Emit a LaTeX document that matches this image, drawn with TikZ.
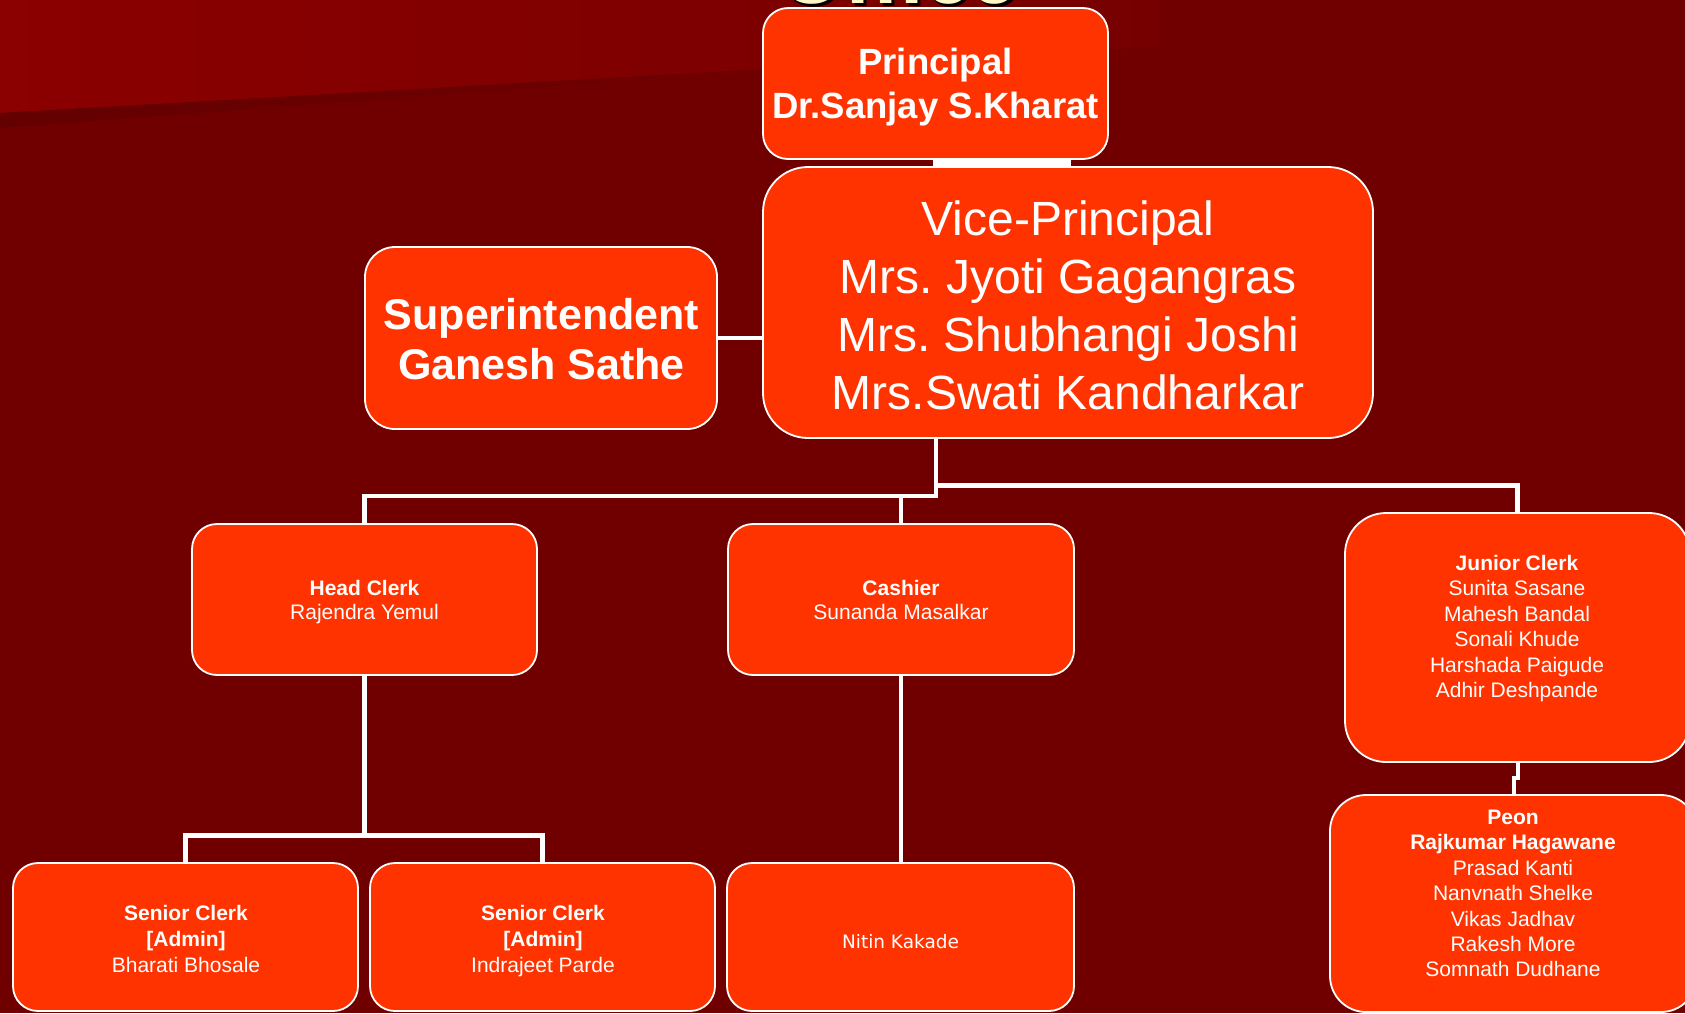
\documentclass[tikz,border=0pt]{standalone}
\usepackage{fontspec}
\setmainfont{Liberation Sans}
\newfontfamily\dejavu{DejaVu Sans}
\usetikzlibrary{calc}
\definecolor{bgred}{HTML}{700000}
\definecolor{bandred}{HTML}{8B0000}
\definecolor{bandright}{HTML}{760000}
\definecolor{stripe}{HTML}{640000}
\definecolor{boxred}{HTML}{FF3300}
\definecolor{titlecream}{HTML}{FFF6C6}
\begin{document}
\frenchspacing
\begin{tikzpicture}[x=1pt,y=-1pt,
  orgbox/.style={draw=white, line width=1.8pt, fill=boxred, inner sep=0pt, rounded corners=#1},
  orgbox/.default=25pt,
  link/.style={draw=white, line width=4.5pt},
  txt/.style={text=white, align=center, inner sep=0pt},
  small/.style={txt, font=\fontsize{21}{#1}\selectfont},
]
% background
\fill[bgred] (0,0) rectangle (1685,1013);
\useasboundingbox (0,0) rectangle (1685,1013);
\shade[left color=bandred, right color=bandright] (0,0) -- (1160,0) -- (1160,46.5) -- (0,113) -- cycle;
\shade[left color=stripe, right color=bgred] (0,113) -- (850,64.2) -- (0,128) -- cycle;

% cut title
\begin{scope}
\clip (0,0) rectangle (1685,1013);
\node[anchor=base, inner sep=0pt, text=black, font=\bfseries\fontsize{84}{84}\selectfont] (titleshadow) at (901,6) {Office};
\node[anchor=base, inner sep=0pt, text=titlecream, font=\bfseries\fontsize{84}{84}\selectfont] (title) at (898.5,3.5) {Office};
\end{scope}

% boxes
\node[orgbox=25pt, minimum width=345pt, minimum height=151pt] (prin) at (935.5,83.5) {};
\node[orgbox=45pt, minimum width=610pt, minimum height=271pt] (vp) at (1068,302.5) {};
\node[orgbox=30pt, minimum width=352pt, minimum height=182pt] (sup) at (541,338) {};
\node[orgbox=25pt, minimum width=345pt, minimum height=151pt] (hc) at (364.5,599.5) {};
\node[orgbox=25pt, minimum width=346pt, minimum height=151pt] (cash) at (901,599.5) {};
\node[orgbox=41pt, minimum width=345pt, minimum height=249pt] (jc) at (1517.5,637.5) {};
\node[orgbox=36pt, minimum width=367pt, minimum height=217pt] (peon) at (1513.5,903.5) {};
\node[orgbox=25pt, minimum width=345pt, minimum height=148pt] (sc1) at (185.5,937) {};
\node[orgbox=25pt, minimum width=345pt, minimum height=148pt] (sc2) at (542.5,937) {};
\node[orgbox=25pt, minimum width=347pt, minimum height=148pt] (nitin) at (900.5,937) {};

% connectors
\fill[white] ($(prin.south)+(-2.5,0)$) rectangle ($(vp.north)+(3,0)$);
\draw[link, line width=4pt] (sup.east) -- (vp.west |- sup.east);
\coordinate (j1) at (936,496);
\coordinate (j2) at (936,485.5);
\coordinate (j3) at (364.5,835.5);
\draw[link] (vp.south -| j1) -- (j1) -| (hc.north);
\draw[link] (cash.north |- j1) -- (cash.north);
\draw[link] (j2) -| (jc.north);
\draw[link] (hc.south) -- (j3);
\draw[link] (sc1.north) -- (sc1.north |- j3) -- (sc2.north |- j3) -- (sc2.north);
\draw[link] (cash.south) -- (cash.south |- nitin.north);
\draw[link, line width=4pt] (jc.south) -- ($(jc.south)+(0,15)$) -| (peon.north);

% texts
\node[txt, font=\bfseries\fontsize{36.5}{44}\selectfont] (prin-t) at (935.5,87.2)
  {\strut Principal\\\strut Dr.Sanjay S.Kharat};
\node[txt, font=\fontsize{48}{58}\selectfont] (vp-t) at (1068,310.4)
  {\strut Vice-Principal\\\strut Mrs. Jyoti Gagangras\\\strut Mrs. Shubhangi Joshi\\\strut Mrs.Swati Kandharkar};
\node[txt, font=\bfseries\fontsize{43}{50}\selectfont] (sup-t) at (541.5,344)
  {\strut Superintendent\\\strut Ganesh Sathe};
\node[small=24.5] (hc-t) at (364.5,602.4)
  {\strut\textbf{Head Clerk}\\\strut Rajendra Yemul};
\node[small=24.5] (cash-t) at (901,602.4)
  {\strut\textbf{Cashier}\\\strut Sunanda Masalkar};
\node[small=25.5] (jc-t) at (1517,628.7)
  {\strut\textbf{Junior Clerk}\\\strut Sunita Sasane\\\strut Mahesh Bandal\\\strut Sonali Khude\\\strut Harshada Paigude\\\strut Adhir Deshpande};
\node[small=25.4] (peon-t) at (1513,895.6)
  {\strut\textbf{Peon}\\\strut\textbf{Rajkumar Hagawane}\\\strut Prasad Kanti\\\strut Nanvnath Shelke\\\strut Vikas Jadhav\\\strut Rakesh More\\\strut Somnath Dudhane};
\node[small=26] (sc1-t) at (186,941.3)
  {\strut\textbf{Senior Clerk}\\\strut\textbf{[Admin]}\\\strut Bharati Bhosale};
\node[small=26] (sc2-t) at (543,941.3)
  {\strut\textbf{Senior Clerk}\\\strut\textbf{[Admin]}\\\strut Indrajeet Parde};
\node[txt, anchor=base, font=\dejavu\fontsize{18.5}{22}\selectfont] (nitin-t) at (900.5,948) {Nitin Kakade};
\end{tikzpicture}
\end{document}
